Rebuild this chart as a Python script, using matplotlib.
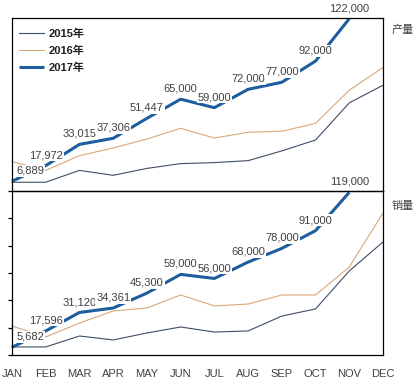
import matplotlib
matplotlib.use("Agg")
import matplotlib.pyplot as plt
import numpy as np

plt.rcParams['font.family'] = ['Liberation Sans', 'Noto Sans CJK SC', 'DejaVu Sans']

months = ['JAN', 'FEB', 'MAR', 'APR', 'MAY', 'JUN', 'JUL', 'AUG', 'SEP', 'OCT', 'NOV', 'DEC']
series_names = ['2015年', '2016年', '2017年']

# 产量 (production)
prod_2015 = [6200, 6200, 14600, 11100, 16000, 19400, 20100, 21500, 28400, 36100, 62400, 74900]
prod_2016 = [20800, 14600, 25000, 30500, 36800, 44400, 37500, 41600, 42300, 47900, 71400, 87400]
prod_2017 = [6889, 17972, 33015, 37306, 51447, 65000, 59000, 72000, 77000, 92000, 122000]

# 销量 (sales)
sales_2015 = [5900, 5900, 13900, 11000, 16100, 20500, 16800, 17600, 28500, 33700, 61500, 82700]
sales_2016 = [21200, 13200, 23400, 32200, 34400, 43900, 35900, 37300, 43900, 43900, 64400, 103900]
sales_2017 = [5682, 17596, 31120, 34361, 45300, 59000, 56000, 68000, 78000, 91000, 119000]

C15, C16, C17 = '#3E4D66', '#D8A878', '#1F5E9E'
TXT = '#404040'

W, H = 416, 384
fig = plt.figure(figsize=(W / 100, H / 100), dpi=100)
L, R = 12 / W, 383 / W
axT = fig.add_axes([L, 1 - 191 / H, R - L, (191 - 18) / H])
axB = fig.add_axes([L, 1 - 355 / H, R - L, (355 - 191) / H])


def draw(ax, s15, s16, s17, name, ymax, name_y):
    x = np.arange(len(months))
    ax.plot(x, s15, color=C15, lw=0.8, clip_on=False, zorder=2, label=series_names[0])
    ax.plot(x, s16, color=C16, lw=0.8, clip_on=False, zorder=2, label=series_names[1])
    ax.plot(x[:len(s17)], s17, color=C17, lw=2.2, clip_on=False, zorder=2,
            solid_capstyle='butt', label=series_names[2])
    for i, v in enumerate(s17):
        dx = 13 if i == 0 else 0
        ax.annotate(f'{v:,}', (i, v), xytext=(dx, 7.5), textcoords='offset points',
                    ha='center', va='center', fontsize=8, color=TXT,
                    annotation_clip=False, zorder=4,
                    bbox=dict(boxstyle='square,pad=0.08', fc='white', ec='none'))
    ax.set_xlim(0, 11)
    ax.set_ylim(0, ymax)
    for sp in ax.spines.values():
        sp.set_color('black')
        sp.set_linewidth(0.9)
    ax.text(1.054, name_y, name, transform=ax.transAxes, ha='center', va='center',
            fontsize=8, color=TXT, family=['Noto Sans CJK SC', 'DejaVu Sans'])
    ax.set_facecolor('none')


draw(axT, prod_2015, prod_2016, prod_2017, '产量', 122500, 0.93)
draw(axB, sales_2015, sales_2016, sales_2017, '销量', 120000, 0.91)

axT.set_xticks([])
axT.set_yticks([])
axB.set_yticks(np.arange(0, 120001, 20000))
axB.tick_params(axis='y', length=3, width=0.9, labelleft=False, direction='out')
axB.set_xticks(np.arange(len(months)))
axB.set_xticklabels(months)
axB.tick_params(axis='x', length=0, pad=10, labelsize=8, labelcolor=TXT)

leg = axT.legend(loc='upper left', bbox_to_anchor=(0.0, 0.98), frameon=False,
                 handlelength=2.3, handletextpad=0.4, labelspacing=0.6,
                 borderaxespad=0.2,
                 prop=dict(family=['Liberation Sans', 'Noto Sans CJK SC'],
                           weight='bold', size=8))
for t in leg.get_texts():
    t.set_color('#202020')

fig.savefig('out.png', dpi=100)
